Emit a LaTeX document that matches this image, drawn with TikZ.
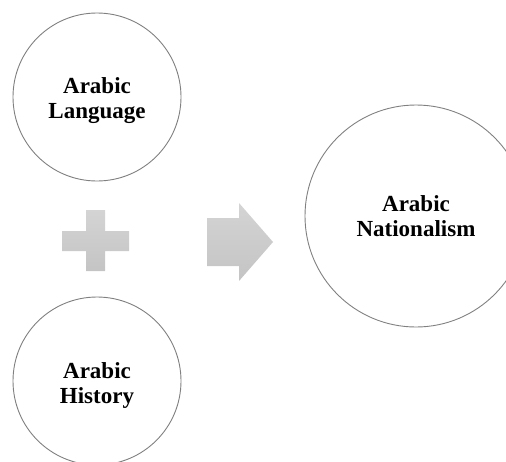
\documentclass[tikz,border=0pt]{standalone}
\usepackage{fontspec}
\setmainfont{Liberation Serif}
\definecolor{edgegray}{RGB}{128,128,128}
\definecolor{shapetop}{RGB}{212,212,212}
\definecolor{shapebot}{RGB}{196,196,196}
\tikzset{
  bubble/.style={circle, draw=edgegray, line width=0.9pt, fill=white, inner sep=0pt},
  bubbletext/.style={align=center, font=\fontsize{23}{25}\selectfont\bfseries},
  symbolshape/.style={top color=shapetop, bottom color=shapebot, draw=none}
}
\begin{document}
\begin{tikzpicture}[x=1pt,y=-1pt]
\useasboundingbox (0,0) rectangle (506,461);
\clip (0,0) rectangle (506,461);
\node[bubble, minimum size=168pt,
  label={[bubbletext, yshift=-4pt]center:Arabic\\Language}] (lang) at (97,97) {};
\node[bubble, minimum size=168pt,
  label={[bubbletext, yshift=-4pt]center:Arabic\\History}] (hist) at (97,381) {};
\node[bubble, minimum size=222pt,
  label={[bubbletext]center:Arabic\\Nationalism}] (nat) at (416,216) {};
% plus sign
\path[symbolshape] (86,210) -- (105,210) -- (105,231) -- (129,231) -- (129,251) -- (105,251)
  -- (105,271) -- (86,271) -- (86,251) -- (62,251) -- (62,231) -- (86,231) -- cycle;
% arrow
\path[symbolshape] (207,218) -- (239,218) -- (239,203) -- (273,242) -- (239,281) -- (239,266)
  -- (207,266) -- cycle;
\end{tikzpicture}
\end{document}
